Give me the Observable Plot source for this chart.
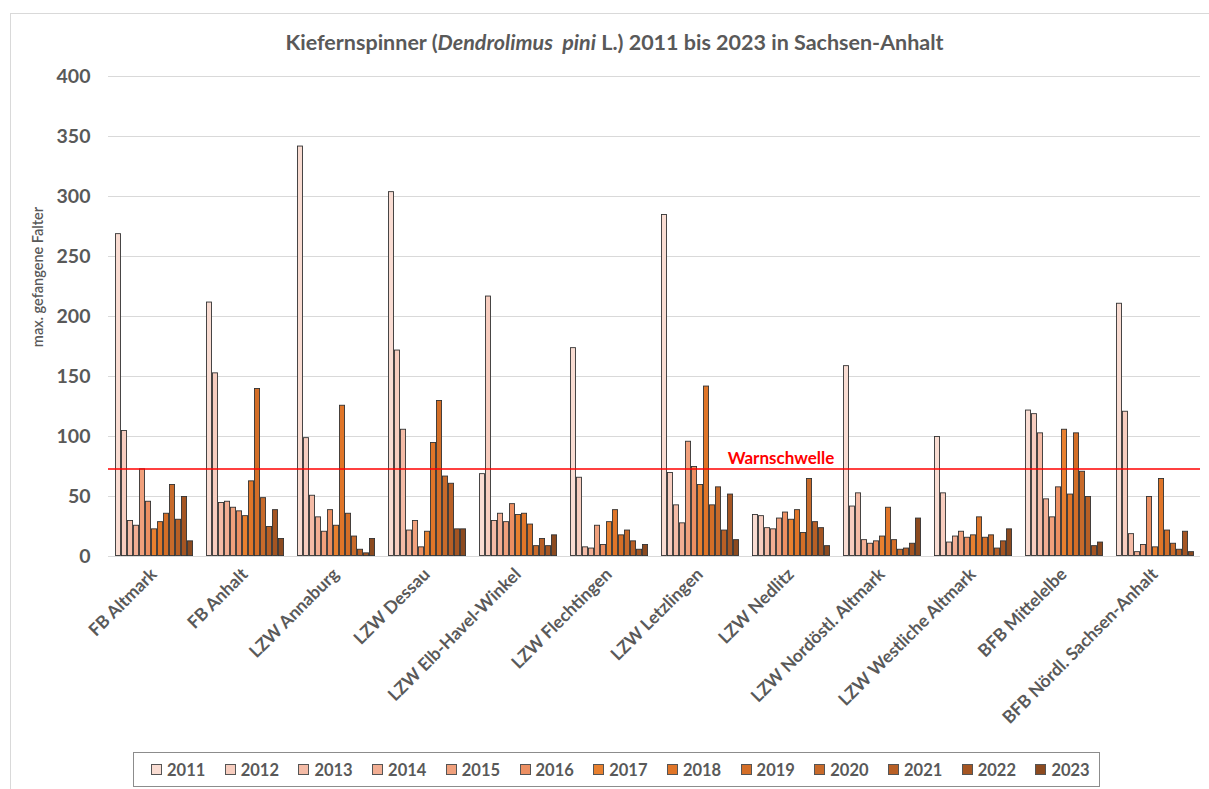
<!DOCTYPE html>
<html>
<head>
<meta charset="utf-8">
<script src="https://cdn.jsdelivr.net/npm/d3@7"></script>
<script src="https://cdn.jsdelivr.net/npm/@observablehq/plot@0.6"></script>
<style>
  body { margin: 0; background: #fff; }
  #wrap { position: relative; width: 1209px; height: 789px; overflow: hidden; background: #fff; font-family: Lato, "Open Sans", sans-serif; color: #595959; }
  #frame { position: absolute; left: 10px; top: 13px; width: 1300px; height: 900px; border: 1px solid #d9d9d9; box-sizing: border-box; }
  #title { position: absolute; left: 10px; width: 1209px; top: 29px; text-align: center; font-size: 21.5px; font-weight: bold; white-space: nowrap; }
  #chart { position: absolute; left: 0; top: 60px; }
  #ylabel { position: absolute; left: 37px; top: 277px; transform: translate(-50%, -50%) rotate(-90deg); font-size: 14.5px; font-weight: 600; white-space: nowrap; }
  #legend { position: absolute; left: 133px; top: 752px; width: 967px; height: 35px; border: 1px solid #8c8c8c; box-sizing: border-box; }
  .li { position: absolute; top: 0; height: 33px; display: flex; align-items: center; font-size: 16.5px; font-weight: bold; }
  .sw { width: 9px; height: 9px; border: 1px solid #555; margin-right: 5px; }
  svg [aria-label="y-axis tick label"] text { font-size: 19.5px; font-weight: bold; fill: #595959; }
  svg [aria-label="fx-axis tick label"] text { font-size: 17.5px; font-weight: bold; fill: #595959; }
</style>
</head>
<body>
<div id="wrap">
  <div id="frame"></div>
  <div id="title">Kiefernspinner (<i>Dendrolimus&nbsp; pini</i> L.) 2011 bis 2023 in Sachsen-Anhalt</div>
  <div id="chart"></div>
  <div id="ylabel">max. gefangene Falter</div>
  <div id="legend"></div>
</div>
<script>
const categories = ["FB Altmark", "FB Anhalt", "LZW Annaburg", "LZW Dessau", "LZW Elb-Havel-Winkel", "LZW Flechtingen", "LZW Letzlingen", "LZW Nedlitz", "LZW Nordöstl. Altmark", "LZW Westliche Altmark", "BFB Mittelelbe", "BFB Nördl. Sachsen-Anhalt"];
const years = [2011, 2012, 2013, 2014, 2015, 2016, 2017, 2018, 2019, 2020, 2021, 2022, 2023];
const yearColors = ["#f9dcd2", "#f7cdbf", "#f4bba6", "#f2ae93", "#f0a07c", "#ec8f62", "#e8802f", "#e07528", "#d46e27", "#c86a2a", "#b85f25", "#a55522", "#8c4a1f"];
const yTicks = [0, 50, 100, 150, 200, 250, 300, 350, 400];
const warnschwelle = 73;

// values per category, in year order 2011..2023
const fbAltmark       = [269, 105, 30, 26, 73, 46, 23, 29, 36, 60, 31, 50, 13];
const fbAnhalt        = [212, 153, 45, 46, 41, 38, 34, 63, 140, 49, 25, 39, 15];
const lzwAnnaburg     = [342, 99, 51, 33, 21, 39, 26, 126, 36, 17, 6, 3, 15];
const lzwDessau       = [304, 172, 106, 22, 30, 8, 21, 95, 130, 67, 61, 23, 23];
const lzwElbHavel     = [69, 217, 30, 36, 29, 44, 35, 36, 27, 9, 15, 9, 18];
const lzwFlechtingen  = [174, 66, 8, 7, 26, 10, 29, 39, 18, 22, 13, 6, 10];
const lzwLetzlingen   = [285, 70, 43, 28, 96, 75, 60, 142, 43, 58, 22, 52, 14];
const lzwNedlitz      = [35, 34, 24, 23, 32, 37, 31, 39, 20, 65, 29, 24, 9];
const lzwNordoestl    = [159, 42, 53, 14, 11, 13, 17, 41, 14, 6, 7, 11, 32];
const lzwWestliche    = [100, 53, 12, 17, 21, 16, 18, 33, 16, 18, 7, 13, 23];
const bfbMittelelbe   = [122, 119, 103, 48, 33, 58, 106, 52, 103, 71, 50, 9, 12];
const bfbNoerdl       = [211, 121, 19, 4, 10, 50, 8, 65, 22, 11, 6, 21, 4];

const seriesByCategory = [fbAltmark, fbAnhalt, lzwAnnaburg, lzwDessau, lzwElbHavel, lzwFlechtingen, lzwLetzlingen, lzwNedlitz, lzwNordoestl, lzwWestliche, bfbMittelelbe, bfbNoerdl];

const rows = [];
categories.forEach((cat, i) => {
  seriesByCategory[i].forEach((v, j) => rows.push({cat, year: years[j], value: v}));
});

const chart = Plot.plot({
  width: 1209,
  height: 690,
  marginLeft: 108,
  marginRight: 9,
  marginTop: 16,
  marginBottom: 194,
  style: {fontFamily: "Lato, 'Open Sans', sans-serif", color: "#595959", background: "transparent"},
  fx: {domain: categories, padding: 0, label: null},
  x: {domain: years, paddingInner: 0, paddingOuter: 0.72, axis: null},
  y: {domain: [0, 400], label: null},
  color: {domain: years, range: yearColors},
  marks: [
    Plot.ruleY(yTicks, {stroke: "#d9d9d9", strokeWidth: 1}),
    Plot.barY(rows, {fx: "cat", x: "year", y: "value", fill: "year", stroke: "#333", strokeWidth: 0.9, inset: 0.45}),
    Plot.ruleY([warnschwelle], {stroke: "#ff0000", strokeWidth: 1.5}),
    Plot.text([{cat: "LZW Nedlitz", label: "Warnschwelle"}], {fx: "cat", y: () => warnschwelle, text: "label", fill: "#ff0000", fontWeight: "bold", fontSize: 17, dx: -10, dy: -10}),
    Plot.axisY(yTicks, {tickSize: 0, tickPadding: 18, label: null}),
    Plot.axisFx({anchor: "bottom", tickRotate: -45, tickSize: 0, tickPadding: 15, label: null})
  ]
});
document.getElementById("chart").appendChild(chart);

const legend = document.getElementById("legend");
years.forEach((y, i) => {
  const item = document.createElement("div");
  item.className = "li";
  item.style.left = (17 + i * 73.7) + "px";
  const sw = document.createElement("div");
  sw.className = "sw";
  sw.style.background = yearColors[i];
  item.appendChild(sw);
  const t = document.createElement("span");
  t.textContent = y;
  item.appendChild(t);
  legend.appendChild(item);
});
</script>
</body>
</html>
